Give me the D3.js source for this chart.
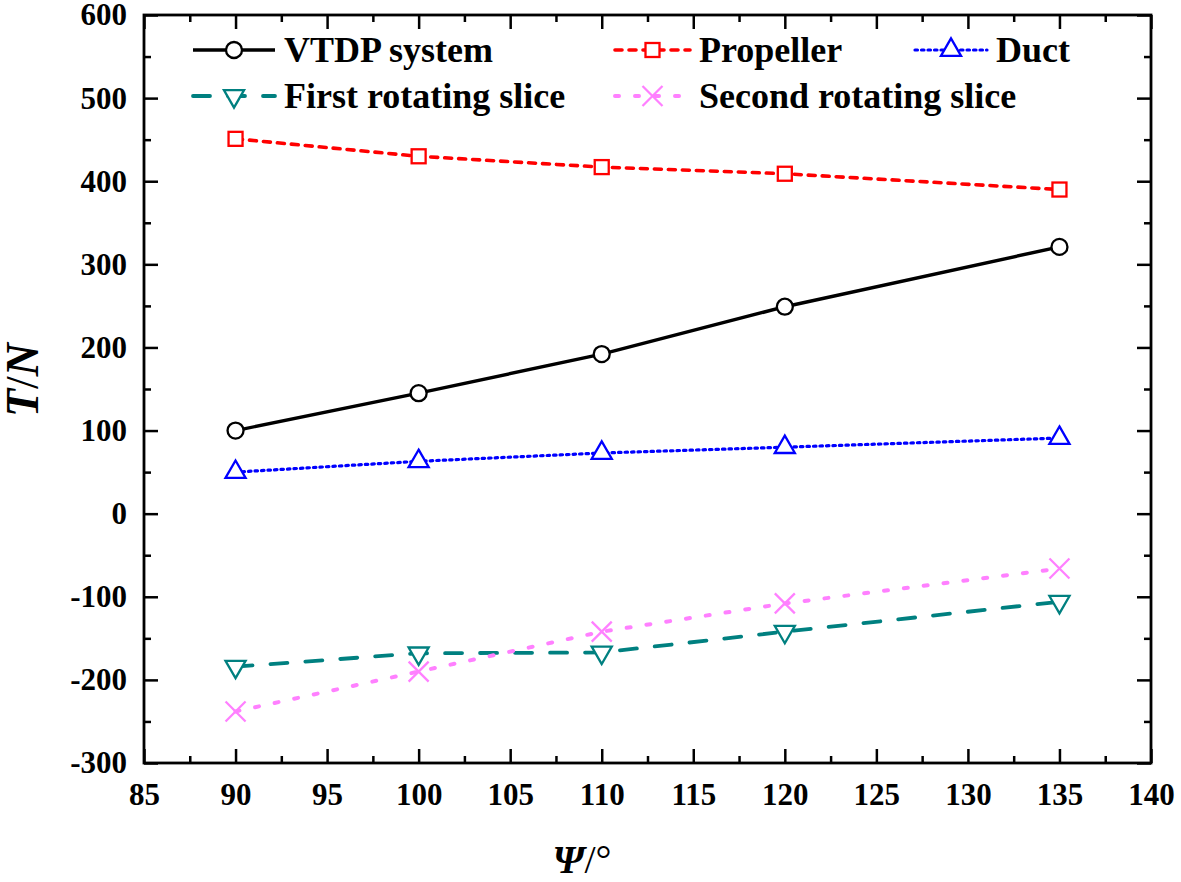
<!DOCTYPE html>
<html>
<head>
<meta charset="utf-8">
<script src="https://cdn.jsdelivr.net/npm/d3@7"></script>
<style>
  html, body { margin: 0; padding: 0; background: #fff; }
  svg text { font-family: "Liberation Serif", "Times New Roman", serif; font-weight: bold; }
</style>
</head>
<body>
<svg id="chart" width="1181" height="882"></svg>
<script>
// data
var psi = [90, 100, 110, 120, 135];
var vtdp = [100, 145, 192, 249, 321];
var propeller = [451, 430, 417, 409, 390];
var duct = [50, 63, 73, 80, 91];
var firstSlice = [-184, -168, -167, -142, -106];
var secondSlice = [-238, -190, -142, -108, -66];

var xTicks = [85, 90, 95, 100, 105, 110, 115, 120, 125, 130, 135, 140];
var yTicks = [-300, -200, -100, 0, 100, 200, 300, 400, 500, 600];

(function () {
  "use strict";

  var series = [
    {name: "VTDP system", values: vtdp, color: "#000000", dash: null, width: 3.4, sym: "circle"},
    {name: "Propeller", values: propeller, color: "#ff0000", dash: "7,7", width: 3.6, sym: "square"},
    {name: "Duct", values: duct, color: "#0000ff", dash: "2.5,4", width: 3.2, sym: "triangle"},
    {name: "First rotating slice", values: firstSlice, color: "#008080", dash: "17,18", width: 3.8, sym: "down"},
    {name: "Second rotating slice", values: secondSlice, color: "#ff80ff", dash: "4,16", width: 4, sym: "cross"}
  ];

  var svg = d3.select("#chart");
  var pLeft = 144, pRight = 1151, pTop = 15, pBottom = 763;

  var x = d3.scaleLinear().domain([85, 140]).range([pLeft, pRight]);
  var y = d3.scaleLinear().domain([-300, 600]).range([pBottom, pTop]);

  // plain hyphen for negatives, like the original
  var fmt = function (d) { return String(d); };

  function drawSymbol(g, kind, color) {
    if (kind === "circle") {
      g.append("circle").attr("r", 8).attr("fill", "#fff").attr("stroke", color).attr("stroke-width", 2.3);
    } else if (kind === "square") {
      g.append("rect").attr("x", -7).attr("y", -7).attr("width", 14).attr("height", 14)
        .attr("fill", "#fff").attr("stroke", color).attr("stroke-width", 2.3);
    } else if (kind === "triangle" || kind === "down") {
      var p = g.append("path").attr("d", d3.symbol().type(d3.symbolTriangle).size(175)())
        .attr("fill", "#fff").attr("stroke", color).attr("stroke-width", 2.3);
      if (kind === "down") p.attr("transform", "rotate(180)");
    } else {
      g.append("path").attr("d", "M-10,-10L10,10M-10,10L10,-10")
        .attr("fill", "none").attr("stroke", color).attr("stroke-width", 2.3);
    }
  }

  // lines + markers
  series.forEach(function (s) {
    var pts = psi.map(function (p, i) { return [p, s.values[i]]; });
    var line = d3.line().x(function (d) { return x(d[0]); }).y(function (d) { return y(d[1]); });
    svg.append("path").datum(pts).attr("d", line)
      .attr("fill", "none").attr("stroke", s.color).attr("stroke-width", s.width)
      .attr("stroke-linecap", s.dash ? "round" : "butt")
      .attr("stroke-dasharray", s.dash);
    pts.forEach(function (d) {
      var g = svg.append("g").attr("transform", "translate(" + x(d[0]) + "," + y(d[1]) + ")");
      drawSymbol(g, s.sym, s.color);
    });
  });

  // axes, ticks pointing inward on all four sides
  var xMinor = d3.range(87.5, 140, 5);
  var yMinor = d3.range(-250, 600, 100);

  function styleAxis(g) {
    g.select(".domain").remove();
    g.selectAll("line").attr("stroke", "#000").attr("stroke-width", 2.5);
    g.selectAll("text").attr("fill", "#000").attr("font-size", 31)
      .attr("font-family", "Liberation Serif, Times New Roman, serif").attr("font-weight", "bold");
  }

  svg.append("g").attr("transform", "translate(0," + pBottom + ")")
    .call(d3.axisBottom(x).tickValues(xTicks).tickSize(-14).tickPadding(20).tickFormat(fmt))
    .call(styleAxis);
  svg.append("g").attr("transform", "translate(0," + pBottom + ")")
    .call(d3.axisBottom(x).tickValues(xMinor).tickSize(-7).tickFormat(""))
    .call(styleAxis);
  svg.append("g").attr("transform", "translate(0," + pTop + ")")
    .call(d3.axisTop(x).tickValues(xTicks).tickSize(-14).tickFormat(""))
    .call(styleAxis);
  svg.append("g").attr("transform", "translate(0," + pTop + ")")
    .call(d3.axisTop(x).tickValues(xMinor).tickSize(-7).tickFormat(""))
    .call(styleAxis);

  svg.append("g").attr("transform", "translate(" + pLeft + ",0)")
    .call(d3.axisLeft(y).tickValues(yTicks).tickSize(-14).tickPadding(17).tickFormat(fmt))
    .call(styleAxis);
  svg.append("g").attr("transform", "translate(" + pLeft + ",0)")
    .call(d3.axisLeft(y).tickValues(yMinor).tickSize(-7).tickFormat(""))
    .call(styleAxis);
  svg.append("g").attr("transform", "translate(" + pRight + ",0)")
    .call(d3.axisRight(y).tickValues(yTicks).tickSize(-14).tickFormat(""))
    .call(styleAxis);
  svg.append("g").attr("transform", "translate(" + pRight + ",0)")
    .call(d3.axisRight(y).tickValues(yMinor).tickSize(-7).tickFormat(""))
    .call(styleAxis);

  // frame
  svg.append("rect").attr("x", pLeft).attr("y", pTop)
    .attr("width", pRight - pLeft).attr("height", pBottom - pTop)
    .attr("fill", "none").attr("stroke", "#000").attr("stroke-width", 2.8);

  // axis titles
  var xt = svg.append("text").attr("x", 582).attr("y", 873).attr("text-anchor", "middle")
    .attr("font-size", 40);
  xt.append("tspan").attr("font-style", "italic").text("Ψ");
  xt.append("tspan").attr("font-weight", "normal").text("/°");

  var yt = svg.append("text").attr("transform", "translate(38,380) rotate(-90)")
    .attr("text-anchor", "middle").attr("font-size", 46);
  yt.append("tspan").attr("font-style", "italic").text("T");
  yt.append("tspan").attr("font-weight", "normal").text("/");
  yt.append("tspan").attr("font-style", "italic").text("N");

  // legend
  var legendPos = [
    {x0: 193, row: 50}, {x0: 615, row: 50}, {x0: 915, row: 50},
    {x0: 193, row: 96}, {x0: 615, row: 96}
  ];
  var legendLen = [82, 75, 72, 82, 75];
  series.forEach(function (s, i) {
    var p = legendPos[i], len = legendLen[i];
    var g = svg.append("g");
    g.append("line").attr("x1", p.x0).attr("x2", p.x0 + len).attr("y1", p.row).attr("y2", p.row)
      .attr("stroke", s.color).attr("stroke-width", s.width)
      .attr("stroke-linecap", s.dash ? "round" : "butt")
      .attr("stroke-dasharray", s.dash);
    var m = g.append("g").attr("transform", "translate(" + (p.x0 + len / 2) + "," + p.row + ")");
    drawSymbol(m, s.sym, s.color);
    g.append("text").attr("x", p.x0 + len + 9).attr("y", p.row + 12)
      .attr("font-size", 36).text(s.name);
  });
})();
</script>
</body>
</html>
